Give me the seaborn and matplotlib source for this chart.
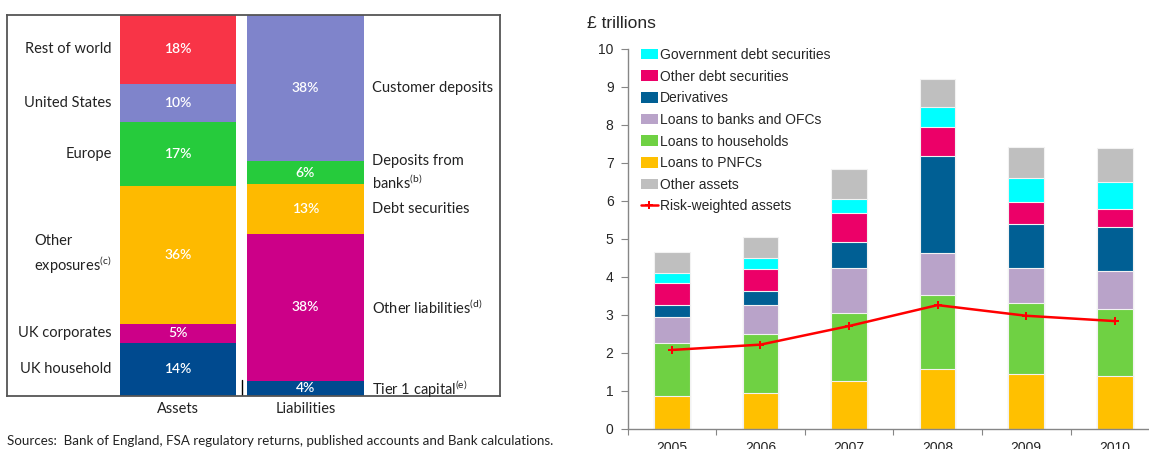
import numpy as np
import matplotlib
matplotlib.use('Agg')
import matplotlib.pyplot as plt
import seaborn as sns
from matplotlib.patches import Patch
from matplotlib.lines import Line2D

sns.set_style('white')
plt.rcParams['font.family'] = ['Liberation Sans', 'DejaVu Sans']

# --- left panel: balance sheet shares (%), bottom -> top ---
bar_names = ['Assets', 'Liabilities']
asset_labels = ['UK household', 'UK corporates', 'Other\nexposures$^{\\mathregular{(c)}}$',
                'Europe', 'United States', 'Rest of world']
asset_pct = [14, 5, 36, 17, 10, 18]
asset_colors = ['#004A8F', '#CC0088', '#FEBA00', '#26CB3C', '#7F84CB', '#F83447']

liab_labels = ['Tier 1 capital$^{\\mathregular{(e)}}$', 'Other liabilities$^{\\mathregular{(d)}}$',
               'Debt securities', 'Deposits from\nbanks$^{\\mathregular{(b)}}$', 'Customer deposits']
liab_pct = [4, 38, 13, 6, 38]
liab_colors = ['#004A8F', '#CC0088', '#FEBA00', '#26CB3C', '#7F84CB']

# --- right panel: £ trillions, stacked bottom -> top ---
years = ['2005', '2006', '2007', '2008', '2009', '2010']
pnfc = [0.86, 0.95, 1.27, 1.59, 1.45, 1.40]
households = [1.40, 1.54, 1.77, 1.94, 1.87, 1.77]
banks_ofcs = [0.69, 0.77, 1.19, 1.09, 0.93, 0.98]
derivatives = [0.31, 0.37, 0.70, 2.56, 1.15, 1.17]
other_debt = [0.57, 0.59, 0.76, 0.76, 0.58, 0.47]
gov_debt = [0.28, 0.29, 0.36, 0.53, 0.62, 0.72]
other_assets = [0.54, 0.55, 0.78, 0.74, 0.82, 0.89]
rwa = [2.08, 2.22, 2.71, 3.26, 2.98, 2.84]

stack_names = ['Loans to PNFCs', 'Loans to households', 'Loans to banks and OFCs',
               'Derivatives', 'Other debt securities', 'Government debt securities', 'Other assets']
stack_vals = [pnfc, households, banks_ofcs, derivatives, other_debt, gov_debt, other_assets]
stack_colors = ['#FFC000', '#6FD143', '#B9A3C9', '#005F94', '#EC0068', '#00FFFF', '#BFBFBF']
legend_order = [5, 4, 3, 2, 1, 0, 6]

fig = plt.figure(figsize=(11.49, 4.49), dpi=100)

# ================= left panel =================
axl = fig.add_axes([7 / 1149, 53 / 449, 493 / 1149, 381 / 449])
lab_font = ['Lato', 'DejaVu Sans']


def stacked_column(ax, name, pct, colors, labels, side):
    pct = np.array(pct, dtype=float)
    pct = pct / pct.sum() * 100
    cum = np.cumsum(pct)
    # draw tallest first so the lower segments sit on top
    for i in range(len(pct) - 1, -1, -1):
        sns.barplot(x=[name], y=[cum[i]], order=bar_names, color=colors[i],
                    saturation=1, width=0.914, linewidth=0, errorbar=None, ax=ax)
    xi = bar_names.index(name)
    for i, p in enumerate(pct):
        mid = cum[i] - p / 2
        ax.text(xi, mid, f'{round(p)}%', color='white', ha='center', va='center',
                fontsize=10, fontweight='semibold', family=lab_font)
        if side == 'left':
            ax.text(-0.52, mid, labels[i], ha='right', va='center', multialignment='left',
                    fontsize=10.5, color='#222222', family=lab_font, linespacing=1.3)
        else:
            ax.text(1.52, mid, labels[i], ha='left', va='center', multialignment='left',
                    fontsize=10.5, color='#222222', family=lab_font, linespacing=1.3)


stacked_column(axl, 'Assets', asset_pct, asset_colors, asset_labels, 'left')
stacked_column(axl, 'Liabilities', liab_pct, liab_colors, liab_labels, 'right')
axl.plot([0.5, 0.5], [0, 4.2], color='black', lw=1)
axl.set_xlim(-1.341, 2.525)
axl.set_ylim(0, 100)
axl.set_yticks([])
axl.set_xticks([0, 1])
axl.set_xticklabels(bar_names, fontsize=10.5, color='#222222', family=lab_font)
axl.tick_params(axis='x', length=0, pad=4)
axl.set_xlabel('')
axl.set_ylabel('')
for s in axl.spines.values():
    s.set_visible(True)
    s.set_color('#555555')
    s.set_linewidth(1.3)

fig.text(7 / 1149, 1 - 441 / 449,
         'Sources:  Bank of England, FSA regulatory returns, published accounts and Bank calculations.',
         ha='left', va='center', fontsize=9.65, color='#222222', family=lab_font)

# ================= right panel =================
axr = fig.add_axes([627.5 / 1149, 20 / 449, 531.6 / 1149, 380 / 449])
cum_vals = np.cumsum(np.array(stack_vals), axis=0)
for i in range(len(stack_vals) - 1, -1, -1):
    sns.barplot(x=years, y=cum_vals[i], color=stack_colors[i], saturation=1, width=0.4,
                edgecolor='#F2F2F2', linewidth=0.8, errorbar=None, ax=axr)
sns.lineplot(x=np.arange(len(years)), y=rwa, color='#FF0000', lw=1.8, marker='P',
             markersize=6, markeredgewidth=0, ax=axr)

axr.set_xlim(-0.5, len(years) - 0.5)
axr.set_ylim(0, 10)
axr.set_yticks(range(0, 11))
axr.set_xticks(np.arange(-0.5, len(years), 1.0))
axr.set_xticklabels([])
axr.set_xticks(np.arange(len(years)), minor=True)
axr.set_xticklabels(years, minor=True)
axr.tick_params(axis='x', which='major', direction='out', length=4, color='#868686', bottom=True)
axr.tick_params(axis='x', which='minor', length=0, pad=9, labelsize=10)
axr.tick_params(axis='y', direction='out', length=5, color='#868686', left=True,
                labelsize=10, pad=5)
axr.set_xlabel('')
axr.set_ylabel('')
sns.despine(ax=axr, top=True, right=True)
for s in ['left', 'bottom']:
    axr.spines[s].set_color('#868686')
    axr.spines[s].set_linewidth(1)

fig.text(587 / 1149, 1 - 24 / 449, '£ trillions', ha='left', va='center', fontsize=12.5)

handles = [Patch(facecolor=stack_colors[i], edgecolor='none') for i in legend_order]
labels = [stack_names[i] for i in legend_order]
handles.append(Line2D([], [], color='#FF0000', lw=1.8, marker='P', markersize=6, markeredgewidth=0))
labels.append('Risk-weighted assets')
axr.legend(handles, labels, loc='upper left', bbox_to_anchor=(0.02, 1.01), frameon=False,
           fontsize=10, handlelength=1.2, handleheight=0.8, handletextpad=0.15,
           labelspacing=0.55, borderaxespad=0, borderpad=0.2)

fig.savefig('out.png', dpi=100)
